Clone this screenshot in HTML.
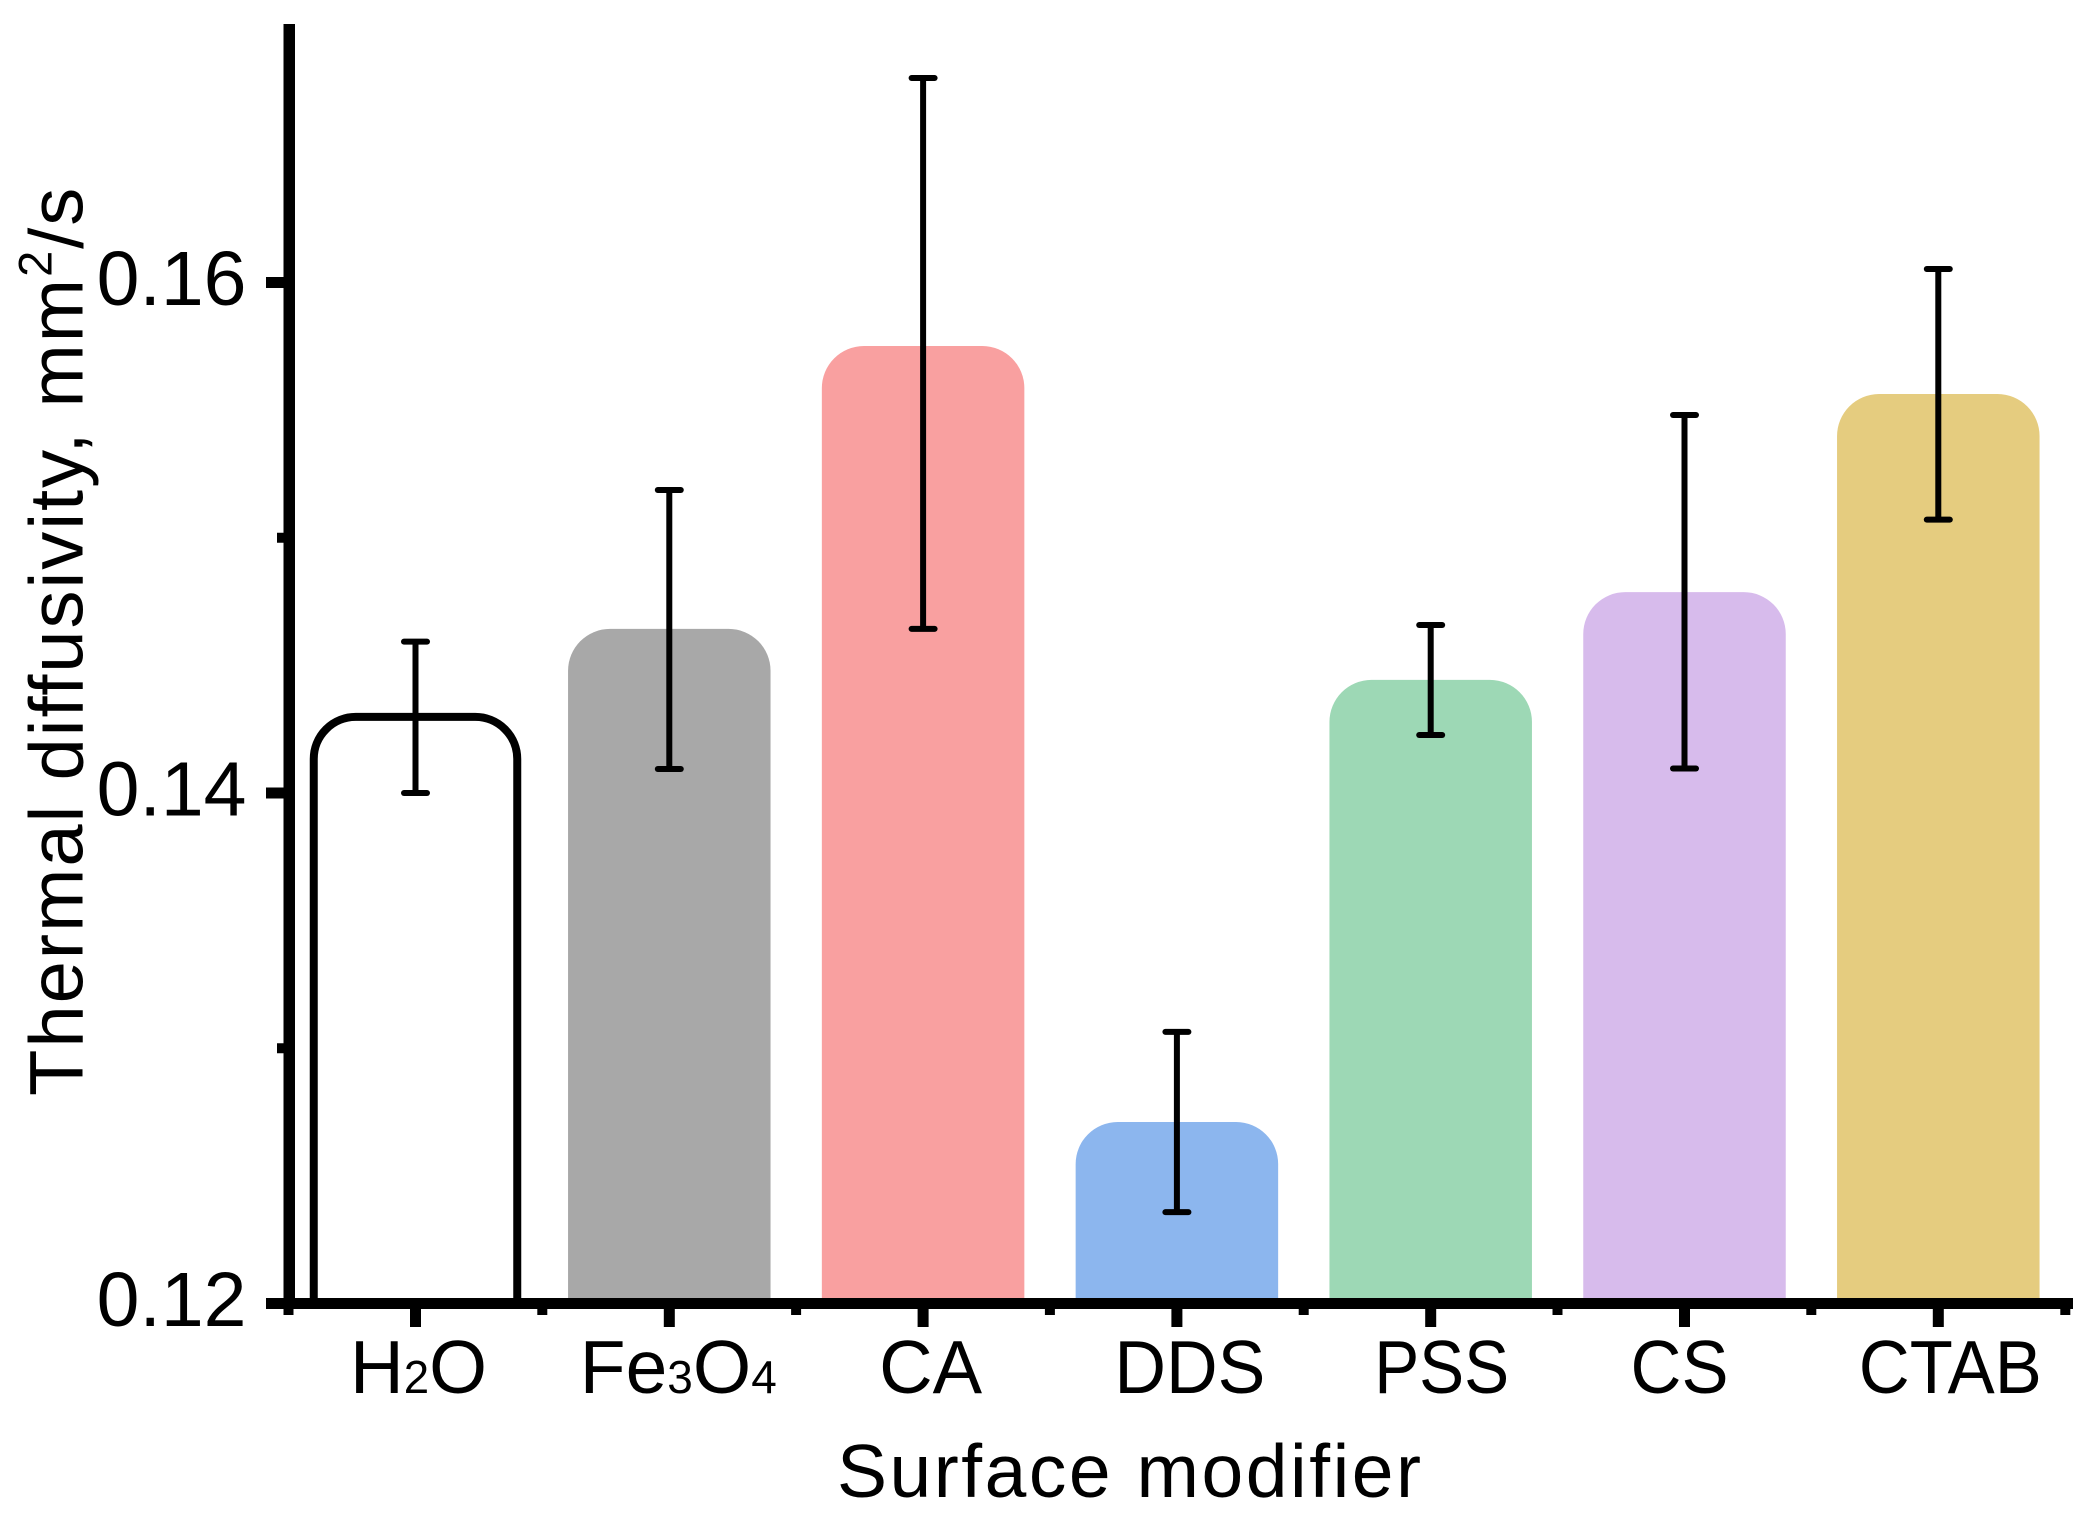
<!DOCTYPE html>
<html lang="en">
<head>
<meta charset="utf-8">
<title>Thermal diffusivity by surface modifier</title>
<style>
html,body{margin:0;padding:0;background:#fff;}
svg{display:block;}
text{font-family:"Liberation Sans",sans-serif;fill:#000;}
</style>
</head>
<body>
<svg id="chart" xmlns="http://www.w3.org/2000/svg" width="2082" height="1522" viewBox="0 0 2082 1522">
  <rect x="0" y="0" width="2082" height="1522" fill="#ffffff"/>
  <g id="bars"></g>
  <g id="errors"></g>
  <g id="yaxis"></g>
  <g id="xaxis"></g>
  <text x="837" y="1497" font-size="75" textLength="584" lengthAdjust="spacing">Surface modifier</text>
  <text transform="translate(82.5,1096) rotate(-90)" font-size="76" letter-spacing="1.95">Thermal diffusivity, mm<tspan font-size="47" dy="-31">2</tspan><tspan dy="31">/s</tspan></text>
</svg>
<script>
const categories = [["H","2","O"],["Fe","3","O","4"],["CA"],["DDS"],["PSS"],["CS"],["CTAB"]];
const categoryIds = ["h2o","fe3o4","ca","dds","pss","cs","ctab"];
const meanValues = [0.14298,0.14643,0.15751,0.12711,0.14443,0.14787,0.15563];
const errorHigh = [0.14593,0.15187,0.16801,0.13064,0.14658,0.15481,0.16053];
const errorLow = [0.14000,0.14094,0.14643,0.12358,0.14227,0.14096,0.15071];
const barColors = ["none","#a8a8a8","#f9a0a0","#8cb6ee","#9dd8b5","#d7bbec","#e5cc7f"];
const yMajorTicks = [0.12,0.14,0.16];
const yMinorTicks = [0.13,0.15];
const yTickLabels = ["0.12","0.14","0.16"];
const labelNudge = [3,9,7.5,13,11,-5,12];
const labelWidth = [137,197,103,151,135,98,183];

const NS = "http://www.w3.org/2000/svg";
function xScale(i){ return 415.5 + 253.8 * i; }
function yScale(v){ return 1303.5 - (v - 0.12) * 25525; }
function make(tag, parent, attrs){
  const e = document.createElementNS(NS, tag);
  for (const k in attrs) e.setAttribute(k, attrs[k]);
  parent.appendChild(e);
  return e;
}
const barsG = document.getElementById("bars");
const errG = document.getElementById("errors");
const yG = document.getElementById("yaxis");
const xG = document.getElementById("xaxis");
const BAR_W = 202.5, R = 42, BASE = 1300;

categories.forEach(function(cat, i){
  const cx = xScale(i), top = yScale(meanValues[i]);
  const outlined = barColors[i] === "none";
  const w = outlined ? 203.5 : BAR_W;
  const l = cx - w / 2, r = cx + w / 2;
  const d = "M" + l + " " + BASE + "V" + (top + R) + "A" + R + " " + R + " 0 0 1 " + (l + R) + " " + top +
            "H" + (r - R) + "A" + R + " " + R + " 0 0 1 " + r + " " + (top + R) + "V" + BASE + (outlined ? "" : "Z");
  const bar = make("path", barsG, outlined
    ? {d: d, fill: "#ffffff", stroke: "#000000", "stroke-width": 8}
    : {d: d, fill: barColors[i]});
  
  

  const yHi = yScale(errorHigh[i]), yLo = yScale(errorLow[i]);
  const group = make("g", errG, {stroke: "#000000", "stroke-linecap": "round"});
  
  
  make("line", group, {x1: cx, x2: cx, y1: yHi, y2: yLo, "stroke-width": 6, "stroke-linecap": "butt"});
  make("line", group, {x1: cx - 11.5, x2: cx + 11.5, y1: yHi, y2: yHi, "stroke-width": 6});
  make("line", group, {x1: cx - 11.5, x2: cx + 11.5, y1: yLo, y2: yLo, "stroke-width": 6});
});

/* y axis */
const yLine = make("rect", yG, {x: 283.5, y: 24, width: 11.5, height: 1285, fill: "#000"});


yMajorTicks.forEach(function(v, i){
  const y = yScale(v);
  const t = make("rect", yG, {x: 266, y: y - 5.5, width: 20, height: 11, fill: "#000"});
  
  
  const lab = make("text", yG, {x: 246.5, y: y + 22.7, "font-size": 77, "text-anchor": "end"});
  lab.textContent = yTickLabels[i];
  
  
});
yMinorTicks.forEach(function(v){
  const t = make("rect", yG, {x: 277, y: yScale(v) - 5, width: 9, height: 10, fill: "#000"});
  
  
});

/* x axis */
const xLine = make("rect", xG, {x: 266, y: 1298, width: 1807, height: 11, fill: "#000"});


categories.forEach(function(cat, i){
  const cx = xScale(i);
  const t = make("rect", xG, {x: cx - 5.5, y: 1305, width: 11, height: 22, fill: "#000"});
  
  
  const m = make("rect", xG, {x: cx - 132, y: 1305, width: 10, height: 10, fill: "#000"});
  
  
  const lab = make("text", xG, {x: cx + labelNudge[i], y: 1393, "font-size": 75, "text-anchor": "middle", textLength: labelWidth[i], lengthAdjust: "spacingAndGlyphs"});
  
  
  cat.forEach(function(part){
    const sp = make("tspan", lab, /^[0-9]$/.test(part) ? {"font-size": 46} : {});
    sp.textContent = part;
  });
});
const lastMinor = make("rect", xG, {x: xScale(categories.length - 1) + 122, y: 1305, width: 10, height: 10, fill: "#000"});


</script>
</body>
</html>
